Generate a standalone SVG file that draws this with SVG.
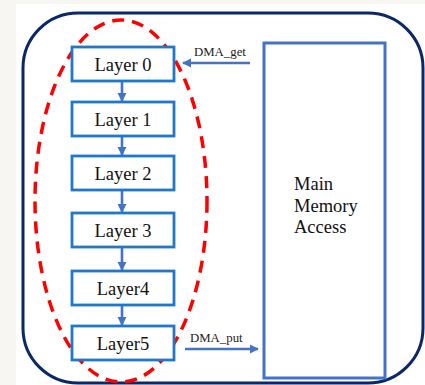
<svg xmlns="http://www.w3.org/2000/svg" width="425" height="385" viewBox="0 0 425 385">
<defs>
<marker id="ah" viewBox="0 0 10 10" refX="9" refY="5" markerWidth="3.6" markerHeight="3.6" orient="auto" markerUnits="strokeWidth">
<path d="M0,0 L10,5 L0,10 z" fill="#4472c4"/>
</marker>
<style>
.layer{fill:#fff;stroke:#1f78c8;stroke-width:2.8}
.lt{font-size:18.5px;fill:#111;text-anchor:middle}
.conn{stroke:#4472c4;stroke-width:2.6;fill:none;marker-end:url(#ah)}
.small{font-size:12.8px;fill:#222}
</style>
</defs>
<rect x="0" y="0" width="425" height="385" fill="#f8f6f3"/>
<rect x="16" y="4" width="409" height="381" fill="#ffffff"/>
<rect id="outer" x="23" y="13" width="400" height="370" rx="55" ry="55" fill="none" stroke="#0a2868" stroke-width="3"/>
<ellipse id="group-ellipse" cx="121" cy="201" rx="86" ry="181" fill="none" stroke="#ff0000" stroke-width="3.5" stroke-dasharray="12 8"/>
<g id="connectors">
<line class="conn" x1="122" y1="81" x2="122" y2="101"/>
<line class="conn" x1="122" y1="136" x2="122" y2="155"/>
<line class="conn" x1="122" y1="190" x2="122" y2="212"/>
<line class="conn" x1="122" y1="247" x2="122" y2="270"/>
<line class="conn" x1="122" y1="305" x2="122" y2="325"/>
<line class="conn" x1="250" y1="63" x2="183" y2="63"/>
<line class="conn" x1="185" y1="349" x2="258" y2="349"/>
</g>
<g font-family="Liberation Serif, Times New Roman, serif">
<g id="layer0"><rect class="layer" x="72" y="47" width="102" height="34"/><text class="lt" x="123" y="70.5">Layer 0</text></g>
<g id="layer1"><rect class="layer" x="72" y="102" width="102" height="34"/><text class="lt" x="123" y="125.5">Layer 1</text></g>
<g id="layer2"><rect class="layer" x="72" y="156" width="102" height="34"/><text class="lt" x="123" y="179.5">Layer 2</text></g>
<g id="layer3"><rect class="layer" x="72" y="213" width="102" height="34"/><text class="lt" x="123" y="236.5">Layer 3</text></g>
<g id="layer4"><rect class="layer" x="72" y="271" width="102" height="34"/><text class="lt" x="123" y="294.5">Layer4</text></g>
<g id="layer5"><rect class="layer" x="72" y="326" width="102" height="34"/><text class="lt" x="123" y="349.5">Layer5</text></g>
<g id="main-memory">
<rect x="264" y="43" width="121" height="335" fill="#fff" stroke="#4472c4" stroke-width="3"/>
<text font-size="18.5" fill="#111"><tspan x="294" y="190">Main</tspan><tspan x="294" y="211.5">Memory</tspan><tspan x="294" y="233">Access</tspan></text>
</g>
<g id="labels">
<text class="small" x="194" y="56">DMA_get</text>
<text class="small" x="190" y="342">DMA_put</text>
</g>
</g>
</svg>
